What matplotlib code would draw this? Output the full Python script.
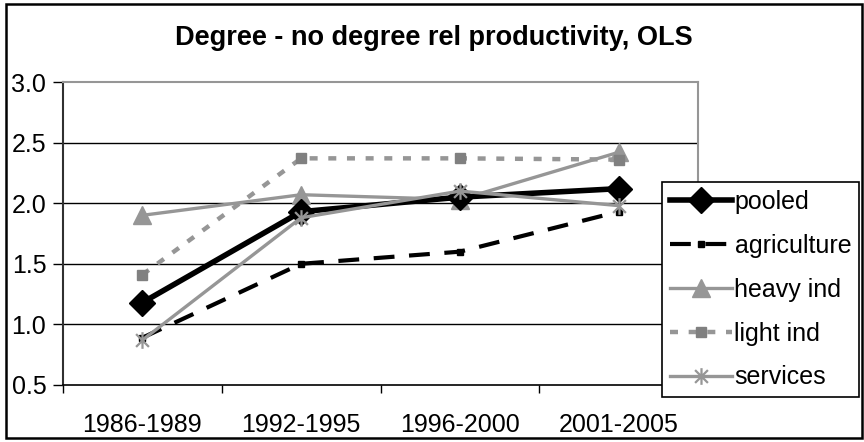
import numpy as np
import matplotlib.pyplot as plt
from matplotlib.path import Path
from matplotlib.patches import Rectangle

# Data
periods = ['1986-1989', '1992-1995', '1996-2000', '2001-2005']
pooled = [1.18, 1.93, 2.05, 2.12]
agriculture = [0.89, 1.50, 1.60, 1.93]
heavy_ind = [1.90, 2.07, 2.03, 2.42]
light_ind = [1.41, 2.37, 2.37, 2.36]
services = [0.87, 1.88, 2.10, 1.98]
y_ticks = [0.5, 1.0, 1.5, 2.0, 2.5, 3.0]

plt.rcParams['font.family'] = ['Liberation Sans', 'DejaVu Sans']

GRAY = '#969696'
FS = 18

# Excel-style star: an X with a vertical bar
star = Path([(-1, -1), (1, 1), (-1, 1), (1, -1), (0, -1.3), (0, 1.3)],
            [Path.MOVETO, Path.LINETO, Path.MOVETO, Path.LINETO, Path.MOVETO, Path.LINETO])

fig = plt.figure(figsize=(8.64, 4.42), dpi=100)
ax = fig.add_axes([63 / 864, 1 - 385 / 442, 635 / 864, 303 / 442])

x = np.arange(len(periods))

# grid lines
for v in y_ticks[1:-1]:
    ax.axhline(v, color='black', lw=1.0, zorder=1)

ax.plot(x, heavy_ind, color=GRAY, lw=2.4, marker='^', markersize=13,
        markeredgecolor=GRAY, label='heavy ind', zorder=3)
ax.plot(x, light_ind, color=GRAY, lw=3.2, linestyle=(0, (1.8, 2.4)), marker='s', markersize=6.5,
        markerfacecolor='#808080', markeredgecolor='#808080', label='light ind', zorder=3)
ax.plot(x, agriculture, color='black', lw=3.0, linestyle=(0, (5, 3.5)), marker='s', markersize=5,
        label='agriculture', zorder=4)
ax.plot(x, pooled, color='black', lw=4.0, marker='D', markersize=13, label='pooled', zorder=5)
ax.plot(x, services, color=GRAY, lw=2.4, marker=star, markersize=12, markeredgewidth=1.6,
        markeredgecolor=GRAY, label='services', zorder=6)

ax.set_xlim(-0.5, 3.5)
ax.set_ylim(0.5, 3.0)
ax.set_yticks(y_ticks)
ax.set_yticklabels(['%.1f' % v for v in y_ticks], fontsize=FS)
ax.set_xticks(x)
ax.set_xticklabels(periods, fontsize=FS)
ax.set_xticks(np.arange(-0.5, 4.0, 1.0), minor=True)
ax.tick_params(axis='x', which='major', length=0, pad=20)
ax.tick_params(axis='x', which='minor', length=6, width=1, direction='out')
ax.tick_params(axis='y', length=7, width=1, direction='out', pad=5)

ax.spines['top'].set_color(GRAY)
ax.spines['right'].set_color(GRAY)
ax.spines['top'].set_linewidth(1.5)
ax.spines['right'].set_linewidth(1.5)
ax.spines['left'].set_color('#303030')
ax.spines['left'].set_linewidth(1.5)
ax.spines['bottom'].set_linewidth(1.2)

fig.text(434 / 864, 1 - 38 / 442, 'Degree - no degree rel productivity, OLS',
         ha='center', va='center', fontsize=19.5, fontweight='bold')

handles, labels = ax.get_legend_handles_labels()
order = ['pooled', 'agriculture', 'heavy ind', 'light ind', 'services']
hl = dict(zip(labels, handles))
leg = fig.legend([hl[k] for k in order], order, loc='upper left',
                 bbox_to_anchor=(662 / 864, 1 - 182 / 442), fontsize=FS,
                 frameon=True, fancybox=False, edgecolor='black', framealpha=1,
                 handlelength=2.5, handletextpad=0.1, borderpad=0.3,
                 labelspacing=0.8, borderaxespad=0)
leg.get_frame().set_linewidth(1.2)

fig.patches.append(Rectangle((6 / 864, 4 / 442), 856 / 864, 434 / 442, transform=fig.transFigure,
                             fill=False, edgecolor='black', lw=1.8))

fig.savefig('out.png', dpi=100)
